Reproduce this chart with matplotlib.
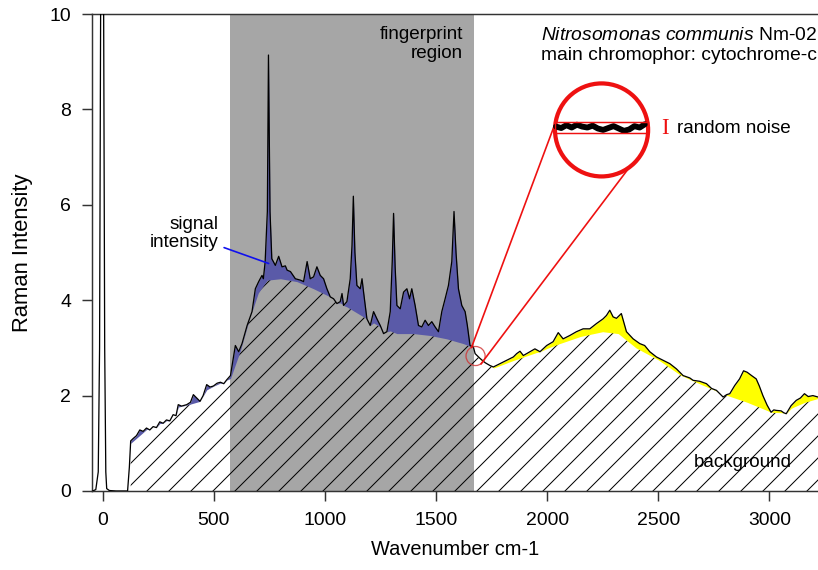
import numpy as np
import matplotlib.pyplot as plt
from matplotlib.patches import Ellipse, Rectangle

plt.rcParams["font.family"] = ["Liberation Sans", "DejaVu Sans"]
plt.rcParams["mathtext.fontset"] = "custom"
plt.rcParams["mathtext.rm"] = "Liberation Sans"
plt.rcParams["mathtext.it"] = "Liberation Sans:italic"
plt.rcParams["hatch.linewidth"] = 0.55

# Raman spectrum
wavenumber = [
    -45, -31, -20, -14, -9, -2, 4, 9, 14, 18, 30, 60, 100, 112,
    120, 126, 137, 152, 167, 182, 197, 212, 227, 242, 257, 272, 287, 302,
    317, 330, 340, 355, 378, 395, 408, 423, 438, 452, 468, 483, 498, 515,
    530, 545, 558,
    575, 597, 612, 627, 650, 672, 687, 702, 717, 723, 731, 741, 746, 753,
    761, 777, 792, 807, 822, 830, 845, 867, 890, 904, 920, 934, 949, 964,
    979, 994, 1009, 1024, 1039, 1054, 1069, 1077, 1084, 1099, 1114, 1122,
    1128, 1135, 1144, 1159, 1167, 1174, 1189, 1204, 1219, 1234, 1249, 1264,
    1279, 1294, 1303, 1309, 1316, 1324, 1339, 1354, 1369, 1381, 1391, 1406,
    1421, 1436, 1451, 1466, 1481, 1496, 1511, 1526, 1541, 1556, 1571, 1581,
    1590, 1601, 1616, 1631, 1641, 1653, 1668, 1676, 1698, 1721,
    1743, 1758, 1788, 1818, 1848, 1863, 1878, 1893, 1923, 1945, 1968, 1998,
    2027, 2050, 2072, 2102, 2132, 2162, 2192, 2222, 2252, 2267, 2282, 2297,
    2312, 2334, 2357, 2387, 2417, 2439, 2462, 2492, 2522, 2552, 2582, 2612,
    2642, 2657, 2687, 2717, 2740, 2762, 2779, 2792, 2808, 2822, 2844, 2866,
    2884, 2900, 2920, 2941, 2955, 2971, 2990, 3008, 3020, 3031, 3053, 3065,
    3076, 3098, 3121, 3140, 3158, 3175, 3196, 3219,
]
intensity = [
    0.0, 0.03, 0.4, 3.0, 10.5, 22.0, 10.5, 3.0, 0.4, 0.05, 0.01, 0.0, 0.0, 0.0,
    0.5, 1.05, 1.1, 1.16, 1.28, 1.25, 1.32, 1.28, 1.35, 1.33, 1.45, 1.42, 1.49, 1.47,
    1.6, 1.58, 1.81, 1.78, 1.81, 1.86, 2.02, 1.95, 1.88, 2.0, 2.23, 2.18, 2.2, 2.26,
    2.28, 2.25, 2.33,
    2.42, 3.05, 2.92, 3.09, 3.47, 3.76, 4.24, 4.39, 4.52, 4.45, 4.8, 5.86, 9.14, 5.86,
    4.87, 4.73, 4.92, 4.7, 4.72, 4.63, 4.6, 4.45, 4.42, 4.39, 4.81, 4.45, 4.49, 4.7,
    4.52, 4.45, 4.24, 4.07, 4.03, 3.93, 3.97, 4.14, 3.89, 3.97, 4.45, 5.15,
    6.18, 5.0, 4.31, 4.24, 4.45, 4.17, 3.61, 3.47, 3.76, 3.61, 3.47, 3.3,
    3.34, 3.76, 4.81, 5.82, 4.7, 3.89, 3.82, 4.17, 4.24, 4.03, 4.24, 3.89,
    3.47, 3.44, 3.58, 3.47, 3.55, 3.44, 3.34, 3.76, 4.03, 4.31, 4.81, 5.86,
    5.0, 4.24, 3.89, 3.76, 3.47, 3.05, 3.02, 2.88, 2.78, 2.69,
    2.63, 2.6, 2.67, 2.74, 2.81, 2.88, 2.93, 2.84, 2.92, 2.98, 2.92, 3.05,
    3.13, 3.32, 3.19, 3.26, 3.34, 3.4, 3.4, 3.51, 3.61, 3.68, 3.79, 3.65,
    3.62, 3.72, 3.34, 3.19, 3.09, 3.05, 2.92, 2.81, 2.74, 2.67, 2.56, 2.42,
    2.37, 2.32, 2.3, 2.25, 2.15, 2.11, 2.03, 1.97, 2.02, 2.04, 2.21, 2.35,
    2.52, 2.49, 2.42, 2.35, 2.2, 2.0, 1.8, 1.65, 1.7, 1.69, 1.68, 1.64,
    1.62, 1.79, 1.9, 1.95, 2.04, 1.98, 2.0, 1.97,
]

# estimated fluorescence background
base_x = [
    126, 200, 300, 340, 378, 438, 468, 500, 575, 620, 660, 700, 740, 800,
    874, 949, 1024, 1099, 1174, 1249, 1324, 1399, 1474, 1548, 1623, 1671,
    1700, 1760, 1850, 1950, 2050, 2150, 2250, 2320, 2400, 2500, 2600, 2700,
    2800, 2900, 3010, 3060, 3110, 3160, 3219,
]
base_y = [
    1.0, 1.3, 1.5, 1.76, 1.8, 1.88, 2.12, 2.2, 2.36, 2.95, 3.6, 4.15, 4.42, 4.45,
    4.39, 4.24, 4.07, 3.86, 3.65, 3.44, 3.3, 3.3, 3.26, 3.19, 3.09, 3.0,
    2.75, 2.58, 2.74, 2.9, 3.08, 3.24, 3.34, 3.3, 3.0, 2.75, 2.43, 2.22,
    2.02, 1.86, 1.65, 1.64, 1.76, 1.86, 1.94,
]

fingerprint = (575, 1671)

# magnified noise inside the zoom circle
noise = [7.64, 7.61, 7.67, 7.62, 7.68, 7.64, 7.62, 7.66, 7.6, 7.57, 7.61,
         7.65, 7.6, 7.55, 7.58, 7.65, 7.62, 7.69]

x_ticks = [0, 500, 1000, 1500, 2000, 2500, 3000]
y_ticks = [0, 2, 4, 6, 8, 10]

DPI = 132
fig = plt.figure(figsize=(818 / DPI, 570 / DPI), dpi=DPI)
ax = fig.add_axes([0.1125, 0.1386, 0.8875, 0.8368])

wn = np.array(wavenumber, dtype=float)
it = np.array(intensity, dtype=float)

grid = np.union1d(wn[wn >= base_x[0]], base_x)
spec = np.interp(grid, wn, it)
base = np.interp(grid, base_x, base_y)
floor = np.minimum(base, spec)

ax.axvspan(*fingerprint, color="#a6a6a6", lw=0, zorder=0)

ax.fill_between(grid, 0, floor, facecolor="none", edgecolor="black",
                hatch="//", linewidth=0, zorder=1)
ax.fill_between(grid, floor, spec, where=grid <= fingerprint[1],
                interpolate=True, color="#5a5aa8", lw=0, zorder=2)
ax.fill_between(grid, floor, spec, where=grid >= fingerprint[1],
                interpolate=True, color="#ffff00", lw=0, zorder=2)
ax.plot(wn, it, color="black", lw=0.7, zorder=3)

# magnifier
big_c, big_w, big_h = (2245, 7.57), 419, 1.95
small_c, small_w, small_h = (1678, 2.83), 86, 0.40


def on_ellipse(c, w, h, deg):
    a = np.radians(deg)
    return c[0] + w / 2 * np.cos(a), c[1] + h / 2 * np.sin(a)


ax.add_patch(Ellipse(big_c, big_w, big_h, fill=False, ec="#ee1111", lw=2.3, zorder=5))
ax.add_patch(Ellipse(small_c, small_w, small_h, fill=False, ec="#d03030",
                     lw=0.7, alpha=0.8, zorder=5))
for a_small, a_big in [(115, 170), (-55, -53)]:
    p0 = on_ellipse(small_c, small_w, small_h, a_small)
    p1 = on_ellipse(big_c, big_w, big_h, a_big)
    ax.plot([p0[0], p1[0]], [p0[1], p1[1]], color="#ee1111", lw=0.9, zorder=5)

nx = np.linspace(2040, 2440, len(noise))
ax.plot(nx, noise, color="black", lw=3.2, solid_capstyle="round", zorder=6)
ax.add_patch(Rectangle((2036, 7.50), 418, 0.24, fill=False, ec="#ee1111",
                       lw=0.8, zorder=7))
ax.text(2531, 7.6, "I", family="Liberation Serif", color="#ee1111",
        fontsize=12.5, ha="center", va="center")
ax.text(2585, 7.6, "random noise", fontsize=10.3, ha="left", va="center")

# labels
ax.text(1621, 9.74, "fingerprint\nregion", fontsize=10.3, ha="right",
        va="top", multialignment="right", linespacing=1.1)
ax.text(3214, 9.45, r"$\it{Nitrosomonas\ communis}$ Nm-02", fontsize=10.5,
        ha="right", va="baseline")
ax.text(3214, 9.04, "main chromophor: cytochrome-c", fontsize=10.5,
        ha="right", va="baseline")
ax.text(2882, 0.59, "background", fontsize=10.3, ha="center", va="center")
ax.annotate("signal\nintensity", xy=(747, 4.77), xytext=(522, 5.4),
            fontsize=10.3, ha="right", va="center", multialignment="right",
            linespacing=1.05,
            arrowprops=dict(arrowstyle="-", color="#1010ee", lw=0.9,
                            shrinkA=1, shrinkB=0))

ax.set_xlim(-48, 3219)
ax.set_ylim(0, 10)
ax.set_xticks(x_ticks)
ax.set_yticks(y_ticks)
ax.spines["right"].set_visible(False)
for s in ["left", "bottom", "top"]:
    ax.spines[s].set_linewidth(0.8)
    ax.spines[s].set_color("#333333")
ax.tick_params(direction="out", length=5.5, width=0.8, pad=6,
               labelsize=10.6, color="#333333")
ax.set_xlabel("Wavenumber cm-1", fontsize=10.9, labelpad=6)
ax.set_ylabel("Raman Intensity", fontsize=12, labelpad=9)

fig.savefig("out.png", dpi=DPI)
